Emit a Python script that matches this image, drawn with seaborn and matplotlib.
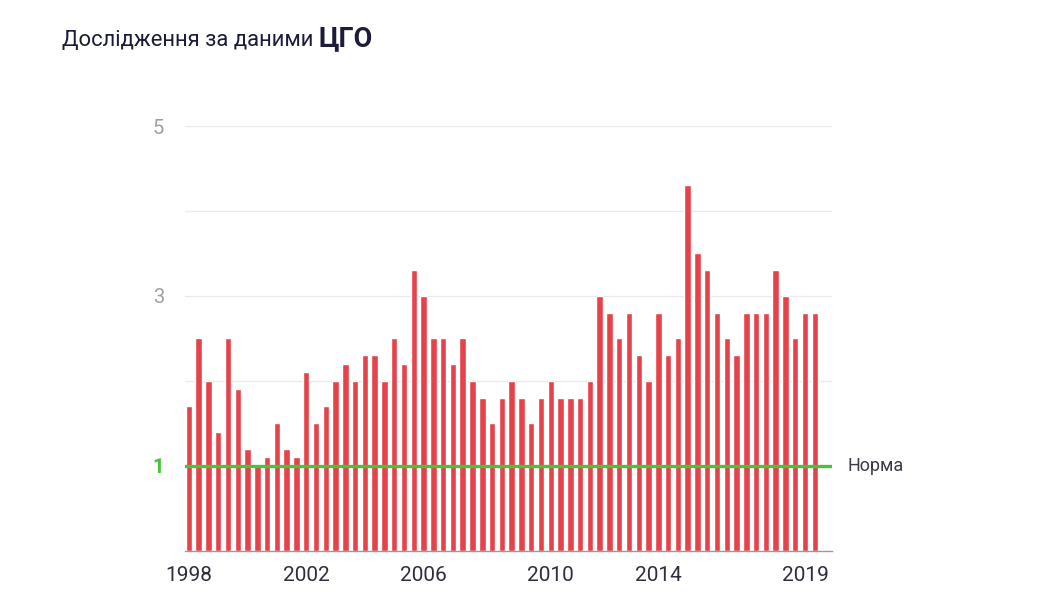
import numpy as np
import pandas as pd
import matplotlib
matplotlib.use("Agg")
import matplotlib.pyplot as plt
import seaborn as sns

# values, one bar per survey (3 per year)
values = [1.7, 2.5, 2.0, 1.4, 2.5, 1.9, 1.2, 1.0, 1.1, 1.5, 1.2, 1.1,
          2.1, 1.5, 1.7, 2.0, 2.2, 2.0, 2.3, 2.3, 2.0, 2.5, 2.2, 3.3,
          3.0, 2.5, 2.5, 2.2, 2.5, 2.0, 1.8, 1.5, 1.8, 2.0, 1.8, 1.5,
          1.8, 2.0, 1.8, 1.8, 1.8, 2.0, 3.0, 2.8, 2.5, 2.8, 2.3, 2.0,
          2.8, 2.3, 2.5, 4.3, 3.5, 3.3, 2.8, 2.5, 2.3, 2.8, 2.8, 2.8,
          3.3, 3.0, 2.5, 2.8, 2.8]
tick_pos = [0, 12, 24, 37, 48, 63]
tick_labels = ["1998", "2002", "2006", "2010", "2014", "2019"]
norm_value = 1

df = pd.DataFrame({"i": np.arange(len(values)), "v": values})

sns.set_style("white")
plt.rcParams['font.family'] = ['Roboto', 'DejaVu Sans']

fig = plt.figure(figsize=(10.51, 6), dpi=100)
ax = fig.add_axes([0.176, 0.082, 0.616, 0.708])

sns.barplot(data=df, x="i", y="v", color="#e5424a", saturation=1,
            width=0.66, ax=ax)

ax.set_xlim(-0.4, 65.8)
ax.set_ylim(0, 5)

# grid lines every 1
for y in [2, 3, 4, 5]:
    ax.axhline(y, color="#ebebeb", lw=1, zorder=0)
ax.axhline(norm_value, color="#46c43c", lw=2.4, zorder=3)
ax.text(65.8 + 1.5, norm_value, "Норма", va="center", ha="left",
        fontsize=13, color="#3a3a48")

ax.set_yticks([1, 3, 5])
ax.set_yticklabels(["1", "3", "5"], fontsize=14.5)
for lab in ax.get_yticklabels():
    lab.set_color("#a0a0a0")
ax.get_yticklabels()[0].set_color("#46c43c")
ax.get_yticklabels()[0].set_fontweight("bold")
ax.tick_params(axis="y", length=0, pad=15)

ax.set_xticks(tick_pos)
ax.set_xticklabels(tick_labels, fontsize=15, color="#2e2e3e")
ax.tick_params(axis="x", length=5, color="#999999", width=1, pad=6)

for s in ["top", "left", "right"]:
    ax.spines[s].set_visible(False)
ax.spines["bottom"].set_color("#999999")
ax.spines["bottom"].set_linewidth(1)
ax.set_xlabel("")
ax.set_ylabel("")

# title: regular part + bold part
t1 = fig.text(62 / 1051, 1 - 46 / 600, "Дослідження за даними ", fontsize=15.8,
              color="#1c1c3a", va="baseline", ha="left")
fig.canvas.draw()
bb = t1.get_window_extent()
fig.text(bb.x1 / 1051, 1 - 46 / 600, "ЦГО", fontsize=19.5, fontweight="bold",
         color="#1c1c3a", va="baseline", ha="left")

fig.savefig("out.png", dpi=100)
